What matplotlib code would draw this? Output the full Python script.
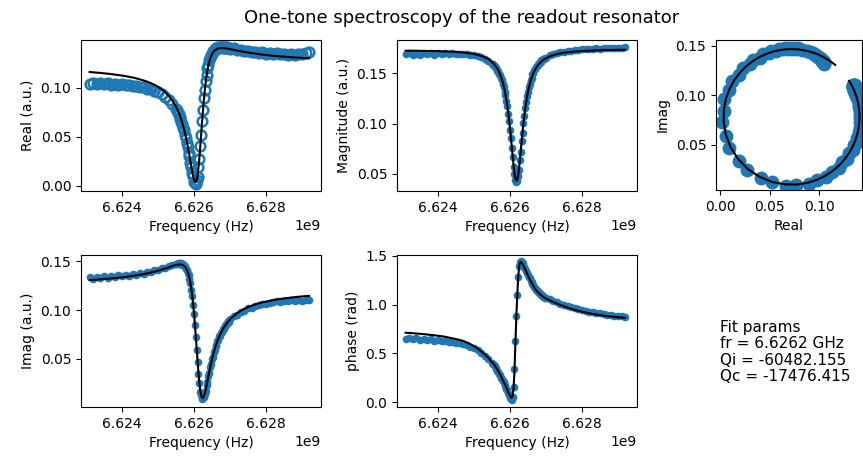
import numpy as np
import matplotlib
matplotlib.use('Agg')
import matplotlib.pyplot as plt

# frequency grid (GHz): 0.1 MHz steps in the wings, 25 kHz steps across the resonance
freq_ghz = [6.6231, 6.6232, 6.6233, 6.6234, 6.6235, 6.6236, 6.6237, 6.6238, 6.6239, 6.6240,
            6.6241, 6.6242, 6.6243, 6.6244, 6.6245, 6.6246, 6.6247, 6.6248, 6.6249, 6.6250,
            6.6251, 6.6252, 6.6253, 6.6254,
            6.62550, 6.625525, 6.62555, 6.625575, 6.6256, 6.625625, 6.62565, 6.625675, 6.6257, 6.625725,
            6.62575, 6.625775, 6.6258, 6.625825, 6.62585, 6.625875, 6.6259, 6.625925, 6.62595, 6.625975,
            6.6260, 6.626025, 6.62605, 6.626075, 6.6261, 6.626125, 6.62615, 6.626175, 6.6262, 6.626225,
            6.62625, 6.626275, 6.6263, 6.626325, 6.62635, 6.626375, 6.6264, 6.626425, 6.62645, 6.626475,
            6.6265, 6.626525, 6.62655, 6.626575, 6.6266, 6.626625, 6.62665, 6.626675, 6.6267, 6.626725,
            6.62675, 6.626775, 6.6268, 6.626825, 6.62685, 6.626875, 6.6269, 6.626925, 6.62695, 6.626975,
            6.6270,
            6.6271, 6.6272, 6.6273, 6.6274, 6.6275, 6.6276, 6.6277, 6.6278, 6.6279, 6.6280,
            6.6281, 6.6282, 6.6283, 6.6284, 6.6285, 6.6286, 6.6287, 6.6288, 6.6289, 6.6290,
            6.6291, 6.6292]

real_data = [.1040, .1052, .1038, .1049, .1036, .1044, .1030, .1041, .1028, .1036,
             .1024, .1030, .1018, .1022, .1010, .1006, .0992, .0982, .0968, .0952,
             .0932, .0905, .0872, .0830,
             .0785, .0770, .0742, .0730, .0700, .0685, .0650, .0630, .0590, .0565,
             .0515, .0490, .0435, .0400, .0335, .0300, .0232, .0192, .0125, .0095,
             .0042, .0038, .0018, .0058, .0090, .0188, .0270, .0410, .0520, .0665,
             .0768, .0895, .0975, .1072, .1128, .1198, .1232, .1283, .1302, .1338,
             .1348, .1374, .1378, .1396, .1395, .1410, .1405, .1418, .1410, .1420,
             .1412, .1418, .1410, .1417, .1408, .1415, .1405, .1412, .1402, .1408,
             .1398,
             .1402, .1385, .1390, .1372, .1378, .1362, .1366, .1352, .1360, .1346,
             .1355, .1342, .1350, .1340, .1348, .1338, .1346, .1336, .1344, .1340,
             .1350, .1362]
real_fit = [.1160, .1157, .1154, .1151, .1147, .1143, .1139, .1134, .1129, .1124,
            .1118, .1111, .1104, .1095, .1085, .1074, .1062, .1047, .1030, .1010,
            .0985, .0955, .0917, .0869,
            .0807, .0788, .0768, .0747, .0723, .0698, .0671, .0641, .0609, .0574,
            .0536, .0496, .0452, .0405, .0355, .0303, .0249, .0195, .0144, .0098,
            .0061, .0039, .0037, .0059, .0108, .0185, .0284, .0401, .0526, .0651,
            .0769, .0877, .0972, .1054, .1123, .1180, .1227, .1265, .1296, .1321,
            .1341, .1357, .1370, .1380, .1387, .1393, .1397, .1401, .1403, .1404,
            .1405, .1405, .1405, .1404, .1403, .1402, .1401, .1399, .1398, .1396,
            .1394,
            .1387, .1379, .1372, .1365, .1359, .1353, .1348, .1343, .1338, .1334,
            .1330, .1326, .1323, .1319, .1317, .1314, .1311, .1309, .1307, .1304,
            .1302, .1301]

imag_data = [.1335, .1322, .1340, .1328, .1345, .1333, .1350, .1338, .1355, .1345,
             .1362, .1352, .1370, .1362, .1380, .1375, .1392, .1390, .1408, .1410,
             .1428, .1435, .1450, .1460,
             .1475, .1470, .1482, .1472, .1484, .1474, .1480, .1465, .1468, .1450,
             .1448, .1425, .1415, .1382, .1360, .1315, .1275, .1210, .1145, .1055,
             .0962, .0845, .0728, .0590, .0470, .0342, .0250, .0165, .0125, .0090,
             .0098, .0105, .0145, .0175, .0230, .0265, .0325, .0358, .0415, .0445,
             .0496, .0522, .0568, .0588, .0630, .0645, .0684, .0695, .0730, .0738,
             .0770, .0775, .0805, .0808, .0835, .0836, .0862, .0860, .0885, .0882,
             .0905,
             .0935, .0955, .0985, .0995, .1018, .1025, .1042, .1048, .1062, .1065,
             .1078, .1080, .1090, .1088, .1098, .1092, .1102, .1095, .1105, .1098,
             .1108, .1102]
imag_fit = [.1308, .1310, .1313, .1316, .1319, .1322, .1325, .1328, .1332, .1336,
            .1341, .1345, .1351, .1356, .1362, .1369, .1377, .1385, .1394, .1404,
            .1415, .1426, .1439, .1452,
            .1462, .1465, .1466, .1467, .1468, .1468, .1466, .1463, .1459, .1452,
            .1443, .1430, .1413, .1391, .1363, .1326, .1280, .1223, .1153, .1069,
            .0970, .0858, .0734, .0603, .0475, .0355, .0254, .0177, .0126, .0102,
            .0100, .0116, .0146, .0185, .0229, .0275, .0322, .0368, .0413, .0455,
            .0494, .0531, .0566, .0598, .0628, .0655, .0681, .0705, .0727, .0748,
            .0767, .0785, .0802, .0818, .0832, .0846, .0859, .0871, .0883, .0893,
            .0904,
            .0939, .0969, .0993, .1013, .1030, .1045, .1057, .1069, .1079, .1087,
            .1095, .1102, .1109, .1114, .1120, .1124, .1129, .1133, .1137, .1140,
            .1143, .1146]

mag_data = [.1690, .1702, .1685, .1698, .1688, .1705, .1692, .1700, .1688, .1703,
            .1690, .1699, .1692, .1701, .1690, .1697, .1690, .1692, .1685, .1682,
            .1672, .1662, .1645, .1628,
            .1598, .1596, .1578, .1575, .1556, .1550, .1528, .1520, .1494, .1482,
            .1450, .1432, .1392, .1366, .1318, .1282, .1220, .1172, .1095, .1030,
            .0938, .0858, .0752, .0665, .0565, .0500, .0435, .0420, .0425, .0478,
            .0535, .0632, .0718, .0825, .0908, .1008, .1075, .1158, .1210, .1276,
            .1315, .1366, .1394, .1436, .1455, .1490, .1503, .1532, .1540, .1565,
            .1570, .1592, .1595, .1613, .1614, .1632, .1630, .1646, .1644, .1658,
            .1656,
            .1680, .1695, .1702, .1714, .1718, .1726, .1728, .1735, .1736, .1742,
            .1740, .1746, .1744, .1750, .1747, .1752, .1749, .1755, .1751, .1757,
            .1753, .1760]
mag_fit = [.1726, .1726, .1726, .1726, .1725, .1724, .1723, .1723, .1723, .1722,
           .1720, .1719, .1718, .1716, .1714, .1711, .1708, .1704, .1699, .1693,
           .1685, .1674, .1660, .1642,
           .1614, .1605, .1596, .1585, .1573, .1560, .1545, .1529, .1511, .1490,
           .1466, .1440, .1409, .1374, .1335, .1289, .1238, .1179, .1111, .1037,
           .0953, .0863, .0767, .0671, .0581, .0505, .0452, .0429, .0439, .0481,
           .0548, .0634, .0729, .0825, .0918, .1005, .1083, .1153, .1215, .1270,
           .1318, .1359, .1396, .1428, .1456, .1481, .1503, .1522, .1539, .1554,
           .1568, .1580, .1592, .1601, .1610, .1619, .1626, .1633, .1639, .1645,
           .1650,
           .1669, .1682, .1691, .1700, .1706, .1710, .1714, .1717, .1720, .1723,
           .1725, .1726, .1728, .1729, .1730, .1732, .1733, .1733, .1734, .1735,
           .1735, .1736]

phase_data = [.650, .662, .645, .658, .642, .652, .638, .648, .632, .640,
              .626, .632, .618, .620, .608, .606, .592, .585, .568, .552,
              .530, .505, .478, .445,
              .400, .394, .378, .371, .352, .345, .322, .312, .288, .278,
              .252, .240, .212, .202, .176, .165, .136, .122, .090, .072,
              .045, .030, .022, .055, .160, .345, .630, .880, 1.100, 1.280,
              1.400, 1.440, 1.448, 1.438, 1.425, 1.402, 1.388, 1.362, 1.348, 1.322,
              1.308, 1.283, 1.269, 1.246, 1.234, 1.212, 1.201, 1.180, 1.170, 1.153,
              1.147, 1.131, 1.126, 1.113, 1.110, 1.097, 1.095, 1.084, 1.082, 1.071,
              1.070,
              1.055, 1.040, 1.025, 1.010, .997, .985, .975, .962, .955, .944,
              .938, .928, .923, .914, .910, .902, .898, .892, .889, .884,
              .882, .878]
phase_fit = [.712, .710, .707, .704, .701, .698, .694, .690, .686, .681,
             .676, .671, .662, .655, .647, .638, .628, .612, .595, .574,
             .550, .520, .490, .455,
             .410, .400, .389, .377, .365, .350, .334, .318, .300, .283,
             .265, .245, .225, .208, .190, .171, .150, .128, .105, .083,
             .065, .050, .045, .070, .150, .320, .600, .860, 1.080, 1.260,
             1.380, 1.435, 1.440, 1.432, 1.418, 1.400, 1.380, 1.360, 1.340, 1.320,
             1.300, 1.280, 1.261, 1.243, 1.226, 1.209, 1.193, 1.177, 1.162, 1.150,
             1.139, 1.128, 1.118, 1.110, 1.102, 1.094, 1.087, 1.081, 1.074, 1.068,
             1.062,
             1.045, 1.028, 1.012, .997, .983, .970, .958, .947, .937, .928,
             .920, .912, .905, .899, .893, .888, .883, .879, .875, .871,
             .868, .865]

fit_text = 'Fit params\nfr = 6.6262 GHz\nQi = -60482.155\nQc = -17476.415'

freq = np.array(freq_ghz) * 1e9

plt.rcParams['font.size'] = 10
W, H = 863, 459
fig = plt.figure(figsize=(W / 100, H / 100), dpi=100)


def rect(l, t, r, b):
    # pixel box -> figure fraction
    return [l / W, 1 - b / H, (r - l) / W, (b - t) / H]


fmin, fmax = 6.62286e9, 6.62953e9
dot = dict(color='C0', ls='none', marker='o', ms=4.5)

ax = fig.add_axes(rect(81, 40, 321, 191))
ax.plot(freq, real_data, 'o', mfc='none', mec='C0', ms=7, mew=1.8)
ax.plot(freq, real_fit, 'k-', lw=1.5)
ax.set_xlim(fmin, fmax)
ax.set_ylim(-0.0054, 0.1487)
ax.set_xlabel('Frequency (Hz)')
ax.set_ylabel('Real (a.u.)')

ax = fig.add_axes(rect(397, 40, 637, 191))
ax.plot(freq, mag_data, **dot)
ax.plot(freq, mag_fit, 'k-', lw=1.5)
ax.set_xlim(fmin, fmax)
ax.set_ylim(0.0327, 0.1833)
ax.set_xlabel('Frequency (Hz)')
ax.set_ylabel('Magnitude (a.u.)')

ax = fig.add_axes(rect(716, 40, 862, 190))
ax.plot(real_data, imag_data, 'o', color='C0', ms=9)
ax.plot(real_fit, imag_fit, 'k-', lw=1.5)
ax.set_xlim(-0.004, 0.143)
ax.set_ylim(0.0045, 0.156)
ax.set_xlabel('Real')
ax.set_ylabel('Imag')

ax = fig.add_axes(rect(81, 255, 321, 407))
ax.plot(freq, imag_data, **dot)
ax.plot(freq, imag_fit, 'k-', lw=1.5)
ax.set_xlim(fmin, fmax)
ax.set_ylim(0.0007, 0.1565)
ax.set_xlabel('Frequency (Hz)')
ax.set_ylabel('Imag (a.u.)')

ax = fig.add_axes(rect(397, 255, 637, 407))
ax.plot(freq, phase_data, **dot)
ax.plot(freq, phase_fit, 'k-', lw=1.5)
ax.set_xlim(fmin, fmax)
ax.set_ylim(-0.05, 1.51)
ax.set_xlabel('Frequency (Hz)')
ax.set_ylabel('phase (rad)')

fig.text(720 / W, 1 - 320 / H, fit_text, va='top', ha='left', fontsize=11,
         linespacing=1.12)
fig.suptitle('One-tone spectroscopy of the readout resonator', x=0.535, y=1 - 9 / H,
             va='top', fontsize=13)

fig.savefig('out.png', dpi=100)
